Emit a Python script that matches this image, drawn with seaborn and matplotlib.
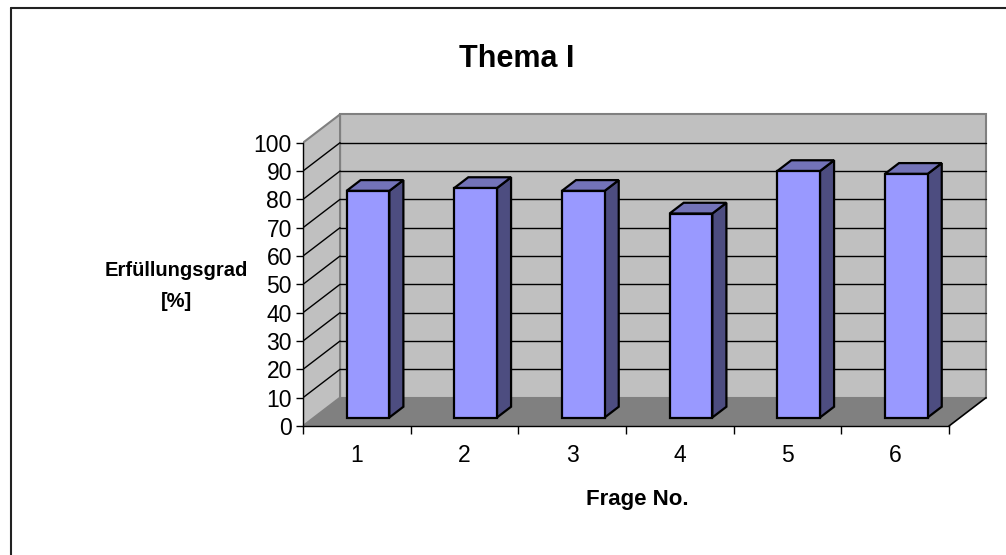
import numpy as np
import pandas as pd
import matplotlib
matplotlib.use("Agg")
import matplotlib.pyplot as plt
import seaborn as sns
from matplotlib.patches import Polygon
from matplotlib.lines import Line2D
from matplotlib.transforms import Affine2D

# ---- data ----
questions = ["1", "2", "3", "4", "5", "6"]
fulfilment = [80, 81, 80, 72, 87, 86]
y_ticks = [0, 10, 20, 30, 40, 50, 60, 70, 80, 90, 100]
title = "Thema I"
x_label = "Frage No."
y_label = "Erfüllungsgrad\n[%]"

sns.set_theme(style="white")
plt.rcParams['font.family'] = ['Liberation Sans', 'DejaVu Sans']

W, H = 1006, 555
fig = plt.figure(figsize=(W / 100, H / 100), dpi=100)
fig.patch.set_facecolor('white')

# axes geometry (pixels)
x0_px, y0_px = 303, 426
px_x, px_y = 107.67, 2.833
x_lo, x_hi, y_lo, y_hi = -0.5, 6.0, -5, 112
l_px = x0_px + (x_lo + 0.5) * px_x
r_px = x0_px + (x_hi + 0.5) * px_x
b_px = y0_px - y_lo * px_y
t_px = y0_px - y_hi * px_y
ax = fig.add_axes([l_px / W, (H - b_px) / H, (r_px - l_px) / W, (b_px - t_px) / H])

df = pd.DataFrame({"Frage": questions, "Wert": fulfilment})
sns.barplot(data=df, x="Frage", y="Wert", width=0.397, color="#9999FF",
            saturation=1, edgecolor="black", linewidth=1.6, ax=ax, zorder=6)
bars = list(ax.patches)

ax.set_xlim(x_lo, x_hi)
ax.set_ylim(y_lo, y_hi)
ax.patch.set_visible(False)
ax.grid(False)
ax.set_xlabel("")
ax.set_ylabel("")

# depth projection
D_X, D_Y = 0.344, 10.0
d0, d1 = 0.3, 0.68
n = len(questions)
xa, xb = -0.5, n - 0.5
ymax = y_ticks[-1]


def proj(x, y, d):
    return (x + D_X * d, y + D_Y * d)


wall_c, floor_c, edge_c = '#C0C0C0', '#808080', '#808080'
ax.add_patch(Polygon([proj(xa, 0, 1), proj(xb, 0, 1), proj(xb, ymax, 1), proj(xa, ymax, 1)],
                     closed=True, fc=wall_c, ec=edge_c, lw=1.5, zorder=1))
ax.add_patch(Polygon([proj(xa, 0, 0), proj(xa, 0, 1), proj(xa, ymax, 1), proj(xa, ymax, 0)],
                     closed=True, fc=wall_c, ec=edge_c, lw=1.5, zorder=1))
ax.add_patch(Polygon([proj(xa, 0, 0), proj(xb, 0, 0), proj(xb, 0, 1), proj(xa, 0, 1)],
                     closed=True, fc=floor_c, ec='none', zorder=2))
p, q = proj(xb, 0, 0), proj(xb, 0, 1)
ax.plot([p[0], q[0]], [p[1], q[1]], color='black', lw=1.2, zorder=3)

for v in y_ticks[1:-1]:
    p, q = proj(xa, v, 1), proj(xb, v, 1)
    ax.plot([p[0], q[0]], [p[1], q[1]], color='black', lw=1.0, zorder=3)
    p, q = proj(xa, v, 0), proj(xa, v, 1)
    ax.plot([p[0], q[0]], [p[1], q[1]], color='black', lw=1.0, zorder=3)

for b in bars:
    b.set_transform(Affine2D().translate(D_X * d0, D_Y * d0) + ax.transData)
    b.set_joinstyle('miter')
    x, w, h = b.get_x(), b.get_width(), b.get_height()
    ax.add_patch(Polygon([proj(x + w, 0, d0), proj(x + w, h, d0), proj(x + w, h, d1), proj(x + w, 0, d1)],
                         closed=True, fc='#4D4D80', ec='black', lw=1.6, joinstyle='miter', zorder=5))
    ax.add_patch(Polygon([proj(x, h, d0), proj(x + w, h, d0), proj(x + w, h, d1), proj(x, h, d1)],
                         closed=True, fc='#7373B8', ec='black', lw=1.6, joinstyle='miter', zorder=5))

# axes lines and ticks
for s in ['top', 'right']:
    ax.spines[s].set_visible(False)
ax.spines['left'].set_bounds(0, ymax)
ax.spines['left'].set_color('black')
ax.spines['left'].set_linewidth(1.0)
ax.spines['left'].set_zorder(7)
ax.spines['bottom'].set_position(('data', 0))
ax.spines['bottom'].set_bounds(xa, xb)
ax.spines['bottom'].set_color('black')
ax.spines['bottom'].set_linewidth(1.0)
ax.spines['bottom'].set_zorder(7)

ax.set_yticks(y_ticks)
ax.set_yticklabels([str(v) for v in y_ticks])
ax.tick_params(axis='y', direction='out', length=5, width=1, pad=3,
               labelsize=16.5, colors='black', left=True)
ax.set_xticks(np.arange(xa, xb + 0.01, 1))
ax.set_xticklabels([])
ax.set_xticks(np.arange(n), minor=True)
ax.set_xticklabels(questions, minor=True)
ax.tick_params(axis='x', which='major', direction='out', length=6, width=1,
               colors='black', bottom=True)
ax.tick_params(axis='x', which='minor', length=0, pad=13, labelsize=16.5,
               labelcolor='black', bottom=True)

# texts
fig.text(517 / W, 1 - 67 / H, title, ha='center', va='baseline',
         fontsize=22, fontweight='bold', color='black')
fig.text(637 / W, 1 - 505 / H, x_label, ha='center', va='baseline',
         fontsize=16, fontweight='bold', color='black')
fig.text(176 / W, 1 - 286 / H, y_label, ha='center', va='center',
         fontsize=14.5, fontweight='bold', color='black', linespacing=1.8,
         multialignment='center')

# chart area border (only top/left visible in the reference)
fig.add_artist(Line2D([11 / W, 1.0], [1 - 8 / H, 1 - 8 / H], transform=fig.transFigure,
                      color='#222222', lw=1.5))
fig.add_artist(Line2D([11 / W, 11 / W], [0.0, 1 - 8 / H], transform=fig.transFigure,
                      color='#222222', lw=1.5))

fig.savefig("out.png", dpi=100)
